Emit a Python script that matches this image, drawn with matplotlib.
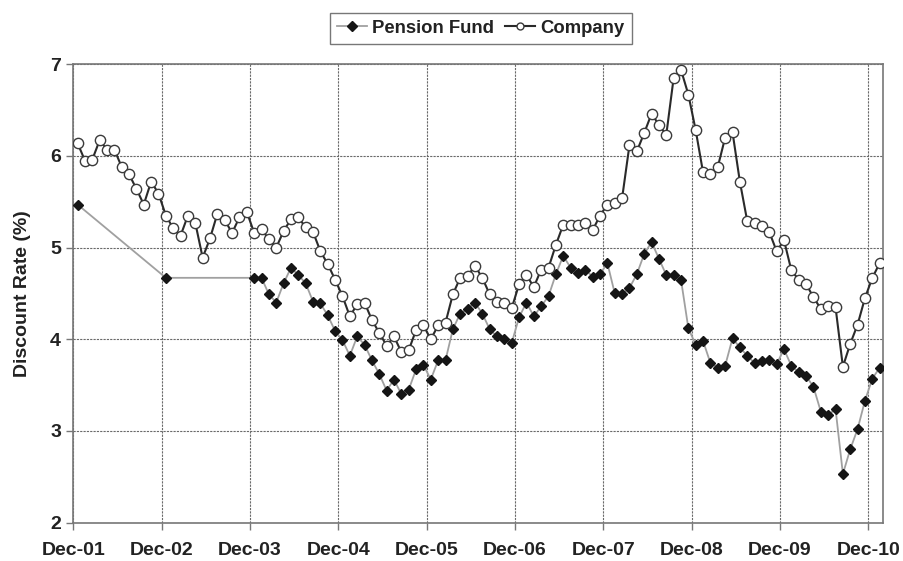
import matplotlib
matplotlib.use("Agg")
import matplotlib.pyplot as plt

# ---- data (month index from Dec-01) ----
company_months = list(range(0, 110))
company = [
    6.14, 5.95, 5.96, 6.17, 6.07, 6.07, 5.88, 5.80, 5.64, 5.47, 5.72, 5.59,
    5.35, 5.21, 5.13, 5.35, 5.27, 4.89, 5.10, 5.37, 5.30, 5.16, 5.33, 5.39,
    5.16, 5.20, 5.09, 5.00, 5.18, 5.31, 5.33, 5.22, 5.17, 4.96, 4.82, 4.65,
    4.47, 4.25, 4.38, 4.40, 4.21, 4.07, 3.93, 4.03, 3.86, 3.88, 4.10, 4.15,
    4.00, 4.15, 4.18, 4.49, 4.67, 4.69, 4.80, 4.67, 4.49, 4.41, 4.40, 4.34,
    4.60, 4.70, 4.57, 4.76, 4.78, 5.03, 5.25, 5.25, 5.25, 5.27, 5.19, 5.35,
    5.47, 5.49, 5.54, 6.12, 6.05, 6.25, 6.46, 6.34, 6.23, 6.85, 6.94, 6.67,
    6.28, 5.82, 5.80, 5.88, 6.20, 6.26, 5.72, 5.29, 5.27, 5.24, 5.17, 4.96,
    5.08, 4.75, 4.65, 4.60, 4.46, 4.33, 4.36, 4.35, 3.70, 3.95, 4.16, 4.45,
    4.67, 4.83,
]

pension_months = [0, 12] + list(range(24, 110))
pension = [
    5.47, 4.67,
    4.67, 4.67, 4.49, 4.40, 4.61, 4.78, 4.70, 4.61, 4.41, 4.39, 4.26, 4.09,
    3.99, 3.82, 4.03, 3.94, 3.77, 3.62, 3.44, 3.56, 3.40, 3.45, 3.67, 3.72,
    3.56, 3.77, 3.77, 4.11, 4.28, 4.33, 4.40, 4.28, 4.11, 4.03, 4.00, 3.96,
    4.24, 4.40, 4.25, 4.36, 4.47, 4.71, 4.91, 4.78, 4.72, 4.76, 4.68, 4.71,
    4.83, 4.50, 4.49, 4.56, 4.71, 4.93, 5.06, 4.88, 4.70, 4.70, 4.65, 4.12,
    3.94, 3.98, 3.74, 3.69, 3.71, 4.01, 3.91, 3.82, 3.74, 3.76, 3.77, 3.73,
    3.89, 3.71, 3.64, 3.60, 3.48, 3.21, 3.17, 3.24, 2.53, 2.80, 3.02, 3.33,
    3.57, 3.69,
]

tick_months = [0, 12, 24, 36, 48, 60, 72, 84, 96, 108]
tick_labels = ["Dec-01", "Dec-02", "Dec-03", "Dec-04", "Dec-05",
               "Dec-06", "Dec-07", "Dec-08", "Dec-09", "Dec-10"]
y_ticks = [2, 3, 4, 5, 6, 7]

offset = 0.55

plt.rcParams['font.family'] = ['Liberation Sans', 'DejaVu Sans']
plt.rcParams['font.weight'] = 'bold'

fig = plt.figure(figsize=(9.04, 5.61), dpi=100)
ax = fig.add_axes([73.5 / 904, 1 - 522.5 / 561, (883 - 73.5) / 904, (522.5 - 64.3) / 561])

txt = '#222222'
gc = '#6a6a6a'

ax.plot([m + offset for m in pension_months], pension, color='#a0a0a0', lw=1.3,
        marker='D', markersize=5, markerfacecolor='#151515', markeredgecolor='#151515',
        label='Pension Fund', zorder=3)
ax.plot([m + offset for m in company_months], company, color='#2a2a2a', lw=1.5,
        marker='o', markersize=7.4, markerfacecolor='white', markeredgecolor='#3a3a3a',
        markeredgewidth=1.0, label='Company', zorder=4)

ax.set_xlim(0, 110)
ax.set_ylim(2, 7)
ax.set_xticks(tick_months)
ax.set_xticklabels(tick_labels)
ax.set_yticks(y_ticks)
ax.grid(True, color=gc, linestyle=(0, (2, 1)), linewidth=0.8)
ax.set_axisbelow(True)
for s in ax.spines.values():
    s.set_color('#777777')
    s.set_linewidth(1.2)
ax.tick_params(axis='both', colors='#777777', labelcolor=txt, labelsize=14, length=5, width=1)
ax.tick_params(axis='x', pad=9)
ax.tick_params(axis='y', pad=4)
for lab in ax.get_xticklabels() + ax.get_yticklabels():
    lab.set_fontweight('bold')
ax.set_ylabel('Discount Rate (%)', fontsize=14, fontweight='bold', color=txt, labelpad=14)

leg = fig.legend(loc='upper center', bbox_to_anchor=(481 / 904, 0.984), ncol=2,
                 prop={'size': 13.3, 'weight': 'bold'}, frameon=True, fancybox=False,
                 handlelength=1.6, handletextpad=0.3, columnspacing=0.6, borderpad=0.38,
                 borderaxespad=0.2)
leg.get_frame().set_edgecolor('#555555')
leg.get_frame().set_linewidth(1.0)
for t in leg.get_texts():
    t.set_color(txt)
for h in leg.legend_handles:
    h.set_markersize(5)

fig.savefig('out.png', dpi=100)
